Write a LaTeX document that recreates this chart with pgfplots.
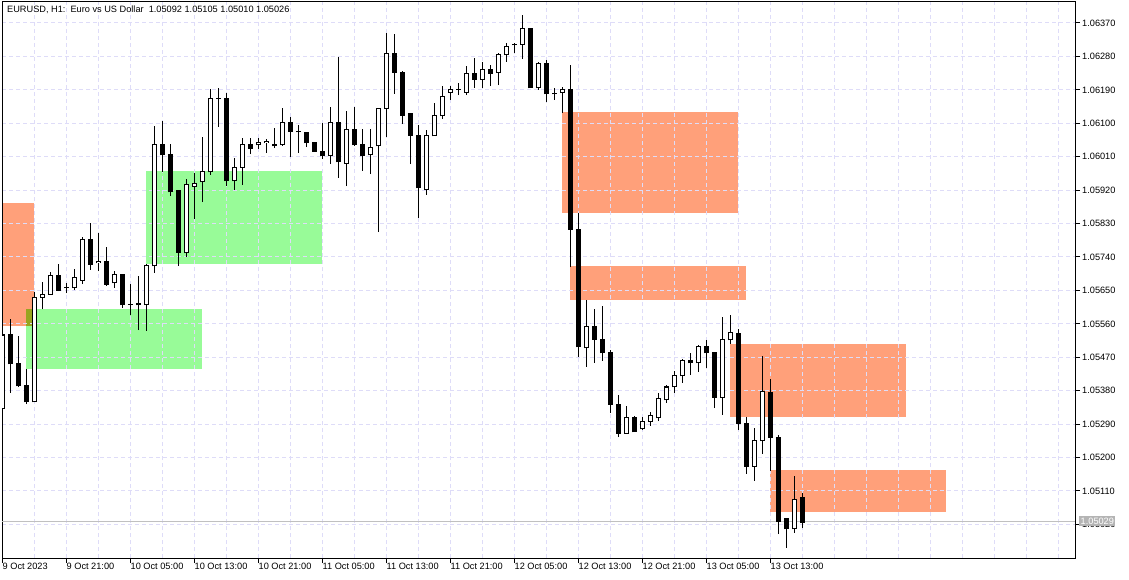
\documentclass[border=0pt]{standalone}
\usepackage{fontspec}
\setmainfont{Liberation Sans}
\usepackage{pgfplots}
\usepackage{pgfplotstable}
\pgfplotsset{compat=1.18}
\definecolor{salmonz}{RGB}{255,160,122}
\definecolor{greenz}{RGB}{152,251,152}
\definecolor{olivez}{RGB}{152,164,32}
\definecolor{gridc}{RGB}{222,220,248}
\definecolor{pricel}{RGB}{192,192,192}
\definecolor{pricebox}{RGB}{180,180,180}
\newcommand{\lblfont}{\fontsize{9.2}{11}\selectfont}

\pgfplotstableread{
i o h l c
0 1.05331 1.05543 1.05323 1.05530
1 1.05530 1.05573 1.05374 1.05452
2 1.05452 1.05527 1.05390 1.05393
3 1.05395 1.05438 1.05344 1.05350
4 1.05350 1.05646 1.05350 1.05632
5 1.05632 1.05673 1.05600 1.05640
6 1.05640 1.05700 1.05638 1.05689
7 1.05689 1.05721 1.05648 1.05651
8 1.05657 1.05670 1.05643 1.05657
9 1.05657 1.05708 1.05651 1.05686
10 1.05678 1.05794 1.05667 1.05786
11 1.05786 1.05832 1.05705 1.05721
12 1.05724 1.05805 1.05702 1.05729
13 1.05729 1.05767 1.05662 1.05667
14 1.05670 1.05702 1.05657 1.05694
15 1.05694 1.05694 1.05603 1.05611
16 1.05613 1.05667 1.05584 1.05613
17 1.05616 1.05689 1.05543 1.05611
18 1.05611 1.05721 1.05541 1.05716
19 1.05716 1.06093 1.05697 1.06042
20 1.06042 1.06106 1.05969 1.06015
21 1.06017 1.06044 1.05904 1.05915
22 1.05918 1.05918 1.05716 1.05753
23 1.05751 1.05950 1.05740 1.05934
24 1.05931 1.05966 1.05842 1.05939
25 1.05942 1.06063 1.05888 1.05969
26 1.05969 1.06192 1.05961 1.06168
27 1.06168 1.06195 1.06090 1.06168
28 1.06168 1.06182 1.05931 1.05945
29 1.05945 1.06007 1.05920 1.05982
30 1.05982 1.06060 1.05934 1.06044
31 1.06044 1.06060 1.06017 1.06033
32 1.06042 1.06060 1.06031 1.06047
33 1.06047 1.06058 1.06020 1.06052
34 1.06044 1.06087 1.06033 1.06039
35 1.06042 1.06141 1.06039 1.06103
36 1.06103 1.06117 1.06009 1.06079
37 1.06077 1.06095 1.06020 1.06077
38 1.06074 1.06074 1.06036 1.06047
39 1.06047 1.06047 1.06023 1.06025
40 1.06025 1.06101 1.06004 1.06012
41 1.06012 1.06144 1.05990 1.06103
42 1.06101 1.06278 1.05953 1.05996
43 1.05993 1.06133 1.05931 1.06082
44 1.06082 1.06144 1.06039 1.06042
45 1.06044 1.06085 1.05972 1.06012
46 1.06015 1.06085 1.05963 1.06036
47 1.06039 1.06141 1.05807 1.06141
48 1.06141 1.06343 1.06063 1.06289
49 1.06287 1.06340 1.06179 1.06238
50 1.06238 1.06241 1.06098 1.06122
51 1.06125 1.06125 1.05990 1.06068
52 1.06068 1.06095 1.05845 1.05926
53 1.05923 1.06082 1.05907 1.06068
54 1.06066 1.06155 1.06066 1.06122
55 1.06120 1.06200 1.06112 1.06171
56 1.06184 1.06200 1.06163 1.06190
57 1.06192 1.06208 1.06176 1.06192
58 1.06184 1.06254 1.06176 1.06233
59 1.06233 1.06276 1.06195 1.06219
60 1.06219 1.06265 1.06195 1.06246
61 1.06246 1.06257 1.06200 1.06235
62 1.06238 1.06289 1.06203 1.06284
63 1.06284 1.06316 1.06265 1.06308
64 1.06311 1.06316 1.06289 1.06311
65 1.06313 1.06392 1.06273 1.06354
66 1.06354 1.06354 1.06195 1.06195
67 1.06195 1.06265 1.06190 1.06260
68 1.06262 1.06270 1.06157 1.06179
69 1.06179 1.06195 1.06163 1.06179
70 1.06184 1.06198 1.06128 1.06192
71 1.06192 1.06257 1.05713 1.05815
72 1.05815 1.05858 1.05471 1.05498
73 1.05495 1.05624 1.05444 1.05554
74 1.05554 1.05600 1.05455 1.05519
75 1.05519 1.05608 1.05460 1.05482
76 1.05482 1.05490 1.05320 1.05344
77 1.05344 1.05368 1.05255 1.05266
78 1.05266 1.05339 1.05266 1.05307
79 1.05307 1.05312 1.05269 1.05269
80 1.05277 1.05309 1.05274 1.05298
81 1.05298 1.05323 1.05285 1.05312
82 1.05307 1.05374 1.05298 1.05358
83 1.05355 1.05395 1.05347 1.05390
84 1.05390 1.05433 1.05374 1.05422
85 1.05420 1.05465 1.05401 1.05460
86 1.05460 1.05482 1.05422 1.05455
87 1.05455 1.05503 1.05430 1.05498
88 1.05498 1.05517 1.05441 1.05482
89 1.05482 1.05484 1.05333 1.05363
90 1.05363 1.05578 1.05315 1.05517
91 1.05517 1.05584 1.05506 1.05538
92 1.05535 1.05546 1.05274 1.05293
93 1.05293 1.05309 1.05156 1.05177
94 1.05177 1.05280 1.05137 1.05245
95 1.05245 1.05473 1.05210 1.05377
96 1.05374 1.05412 1.05164 1.05255
97 1.05253 1.05261 1.04994 1.05029
98 1.05035 1.05035 1.04957 1.05008
99 1.05008 1.05150 1.04997 1.05088
100 1.05092 1.05105 1.05010 1.05026
}\candles

\begin{document}
\begin{tikzpicture}
\begin{axis}[
  at={(2pt,21pt)}, anchor=south west,
  scale only axis, width=1073pt, height=556pt,
  xmin=-0.0625, xmax=134.0625,
  ymin=1.049296, ymax=1.064265,
  set layers,
  axis line style={line width=1pt, black},
  tick align=outside,
  major tick length=5pt,
  minor tick length=0pt,
  tick style={black, line width=1pt},
  xtick pos=bottom, ytick pos=right, yticklabel pos=right,
  xtick={0,8,...,96},
  xticklabels={9 Oct 2023, 9 Oct 21:00, 10 Oct 05:00, 10 Oct 13:00, 10 Oct 21:00, 11 Oct 05:00, 11 Oct 13:00, 11 Oct 21:00, 12 Oct 05:00, 12 Oct 13:00, 12 Oct 21:00, 13 Oct 05:00, 13 Oct 13:00},
  minor xtick={4,12,...,132,104,112,120,128},
  ytick={1.0502,1.0511,1.0520,1.0529,1.0538,1.0547,1.0556,1.0565,1.0574,1.0583,1.0592,1.0601,1.0610,1.0619,1.0628,1.0637},
  yticklabels={1.05020,1.05110,1.05200,1.05290,1.05380,1.05470,1.05560,1.05650,1.05740,1.05830,1.05920,1.06010,1.06100,1.06190,1.06280,1.06370},
  tick label style={font=\lblfont, inner sep=0pt},
  xticklabel style={anchor=north west},
  yticklabel style={anchor=west, xshift=2pt},
  xmajorgrids, ymajorgrids, xminorgrids,
  major grid style={gridc, line width=1pt, dash pattern=on 4pt off 3pt},
  minor grid style={gridc, line width=1pt, dash pattern=on 4pt off 3pt},
]
% zones
\addplot[on layer=axis background, fill=salmonz, draw=none] coordinates {(-0.0625,1.05885) (3.94,1.05885) (3.94,1.05554) (-0.0625,1.05554)};
\addplot[on layer=axis background, fill=greenz, draw=none] coordinates {(2.94,1.05600) (24.94,1.05600) (24.94,1.05438) (2.94,1.05438)};
\addplot[on layer=axis background, fill=olivez, draw=none] coordinates {(2.94,1.05600) (3.94,1.05600) (3.94,1.05554) (2.94,1.05554)};
\addplot[on layer=axis background, fill=greenz, draw=none] coordinates {(17.94,1.05972) (39.94,1.05972) (39.94,1.05721) (17.94,1.05721)};
\addplot[on layer=axis background, fill=salmonz, draw=none] coordinates {(69.94,1.06130) (91.94,1.06130) (91.94,1.05858) (69.94,1.05858)};
\addplot[on layer=axis background, fill=salmonz, draw=none] coordinates {(70.94,1.05716) (92.94,1.05716) (92.94,1.05624) (70.94,1.05624)};
\addplot[on layer=axis background, fill=salmonz, draw=none] coordinates {(90.94,1.05506) (112.94,1.05506) (112.94,1.05309) (90.94,1.05309)};
\addplot[on layer=axis background, fill=salmonz, draw=none] coordinates {(95.94,1.05167) (117.94,1.05167) (117.94,1.05053) (95.94,1.05053)};
% current price line
\addplot[pricel, line width=1pt] coordinates {(-0.0625,1.05029) (134.0625,1.05029)};
% wicks
\addplot[draw=none, mark=none, error bars/.cd, y dir=plus, y explicit, error mark=none,
  error bar style={line width=1pt, draw=black}]
  table[x=i, y=l, y error plus expr=\thisrow{h}-\thisrow{l}] {\candles};
% bodies (black outline / fill), at least 1px tall
\addplot[draw=none, mark=none, error bars/.cd, y dir=plus, y explicit, error mark=none,
  error bar style={line width=5pt, draw=black}]
  table[x=i, y expr={min(\thisrow{o},\thisrow{c})-0.0000135}, y error plus expr={abs(\thisrow{c}-\thisrow{o})+0.000027}] {\candles};
% white interior of rising candles
\addplot[draw=none, mark=none, unbounded coords=discard, error bars/.cd, y dir=plus, y explicit, error mark=none,
  error bar style={line width=3pt, draw=white}]
  table[x=i, y expr={\thisrow{c}>\thisrow{o} ? \thisrow{o}+0.0000135 : nan}, y error plus expr={max(\thisrow{c}-\thisrow{o}-0.000027,0)}] {\candles};
\node[anchor=base west, font=\lblfont, inner sep=0pt, xshift=5pt, yshift=-11pt] at (rel axis cs:0,1) {EURUSD, H1:\ \ Euro vs US Dollar\ \ 1.05092 1.05105 1.05010 1.05026};
\coordinate (pl) at (axis cs:134.0625,1.05029);
\end{axis}
\node[anchor=west, fill=pricebox, text=white, font=\lblfont, inner sep=1.5pt, xshift=4pt] at (pl) {1.05029};
\pgfresetboundingbox
\useasboundingbox (0,0) rectangle (1129pt,579pt);
\end{tikzpicture}
\end{document}
